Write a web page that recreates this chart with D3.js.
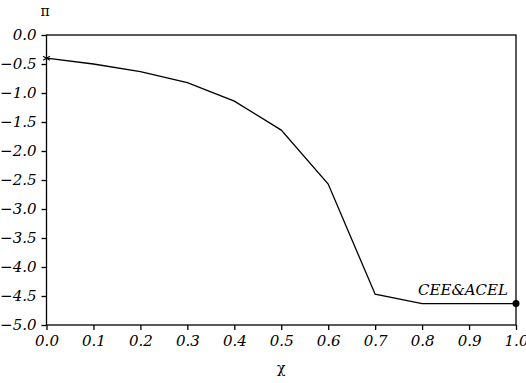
<!DOCTYPE html>
<html>
<head>
<meta charset="utf-8">
<script src="https://cdn.jsdelivr.net/npm/d3@7"></script>
<style>
  body { margin: 0; background: #fff; }
  .tick text { font-family: "DejaVu Serif"; font-style: italic; font-size: 15px; fill: #000; }
</style>
</head>
<body>
<div id="chart"></div>
<script>
// values
const chi = [0.0, 0.1, 0.2, 0.3, 0.4, 0.5, 0.6, 0.7, 0.8, 0.9, 1.0];
const pi = [-0.40, -0.50, -0.63, -0.82, -1.14, -1.64, -2.57, -4.47, -4.63, -4.63, -4.63];
const xTicks = [0, 0.1, 0.2, 0.3, 0.4, 0.5, 0.6, 0.7, 0.8, 0.9, 1.0];
const yTicks = [0, -0.5, -1, -1.5, -2, -2.5, -3, -3.5, -4, -4.5, -5];
const label = "CEE&ACEL";

const width = 526, height = 383;
const margin = {top: 35, right: 10, bottom: 58, left: 46.5};

const svg = d3.select("#chart").append("svg")
  .attr("width", width)
  .attr("height", height);

const x = d3.scaleLinear().domain([0, 1]).range([margin.left, width - margin.right]);
const y = d3.scaleLinear().domain([-5, 0]).range([height - margin.bottom, margin.top]);

// frame
svg.append("rect")
  .attr("x", x(0)).attr("y", y(0))
  .attr("width", x(1) - x(0)).attr("height", y(-5) - y(0))
  .attr("fill", "none").attr("stroke", "#000").attr("stroke-width", 1.3);

svg.append("g")
  .attr("transform", "translate(0," + y(-5) + ")")
  .call(d3.axisBottom(x).tickValues(xTicks).tickFormat(d3.format(".1f")).tickSize(5).tickPadding(5))
  .call(g => g.select(".domain").remove())
  .call(g => g.selectAll("line").attr("stroke-width", 1.3));

svg.append("g")
  .attr("transform", "translate(" + x(0) + ",0)")
  .call(d3.axisLeft(y).tickValues(yTicks).tickFormat(d3.format(".1f")).tickSize(5).tickPadding(5))
  .call(g => g.select(".domain").remove())
  .call(g => g.selectAll("line").attr("stroke-width", 1.3));

const pts = chi.map((c, i) => [c, pi[i]]);

svg.append("path")
  .datum(pts)
  .attr("fill", "none")
  .attr("stroke", "#000")
  .attr("stroke-width", 1.3)
  .attr("d", d3.line().x(d => x(d[0])).y(d => y(d[1])));

// asterisk at start
[0, 60, 120].forEach(a => {
  svg.append("line")
    .attr("transform", "translate(" + x(chi[0]) + "," + y(pi[0]) + ") rotate(" + a + ")")
    .attr("x1", 0).attr("y1", -4).attr("x2", 0).attr("y2", 4)
    .attr("stroke", "#000").attr("stroke-width", 1);
});

// filled dot at end
const last = chi.length - 1;
svg.append("circle")
  .attr("cx", x(chi[last])).attr("cy", y(pi[last]))
  .attr("r", 3.5).attr("fill", "#000");

svg.append("text")
  .attr("x", x(chi[last]) - 8).attr("y", y(pi[last]) - 9)
  .attr("text-anchor", "end")
  .style("font-family", "DejaVu Serif").style("font-style", "italic").style("font-size", "15px")
  .text(label);

// axis titles
svg.append("text")
  .attr("x", 45).attr("y", 16)
  .attr("text-anchor", "middle")
  .style("font-family", "DejaVu Serif").style("font-size", "14px")
  .text("π");

svg.append("text")
  .attr("x", x(0.5)).attr("y", 373)
  .attr("text-anchor", "middle")
  .style("font-family", "DejaVu Serif").style("font-size", "14px")
  .text("χ");
</script>
</body>
</html>
